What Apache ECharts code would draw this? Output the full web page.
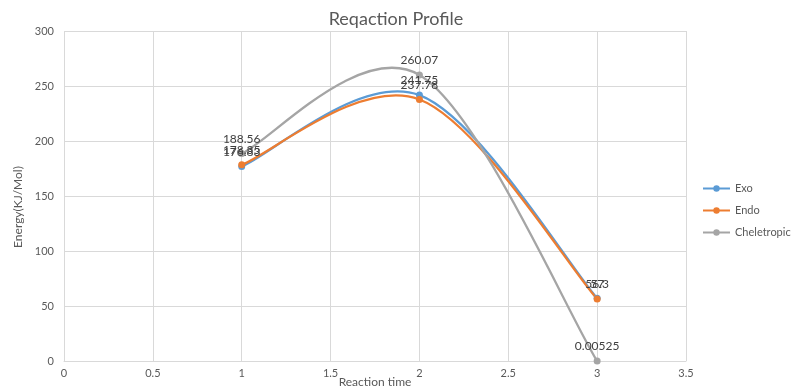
<!DOCTYPE html>
<html><head><meta charset="utf-8">
<script src="https://cdn.jsdelivr.net/npm/echarts@6/dist/echarts.min.js"></script>
<style>html,body{margin:0;padding:0;background:#fff}#c{width:792px;height:391px}</style>
</head><body><div id="c"></div>
<script>
const xValues = [1, 2, 3];
const seriesNames = ['Exo', 'Endo', 'Cheletropic'];
const exo = [176.83, 241.75, 57];
const endo = [178.35, 237.78, 56.3];
const cheletropic = [188.56, 260.07, 0.00525];
const xTicks = [0, 0.5, 1, 1.5, 2, 2.5, 3, 3.5];
const yTicks = [0, 50, 100, 150, 200, 250, 300];
const colors = ['#5B9BD5', '#ED7D31', '#A5A5A5'];
const allValues = [exo, endo, cheletropic];
const FONT = 'Lato, "Liberation Sans", sans-serif';

function curveRender(vals, color) {
  return function (params, api) {
    if (params.dataIndex !== 0) return null;
    const p = xValues.map((x, i) => api.coord([x, vals[i]]));
    const n = p.length;
    let d = 'M' + p[0][0] + ' ' + p[0][1];
    for (let i = 0; i < n - 1; i++) {
      const p0 = p[Math.max(i - 1, 0)], p1 = p[i], p2 = p[i + 1], p3 = p[Math.min(i + 2, n - 1)];
      const c1 = [p1[0] + (p2[0] - p0[0]) / 6, p1[1] + (p2[1] - p0[1]) / 6];
      const c2 = [p2[0] - (p3[0] - p1[0]) / 6, p2[1] - (p3[1] - p1[1]) / 6];
      d += ' C' + c1[0] + ' ' + c1[1] + ' ' + c2[0] + ' ' + c2[1] + ' ' + p2[0] + ' ' + p2[1];
    }
    return { type: 'path', shape: { pathData: d }, style: { stroke: color, lineWidth: 2.25, fill: null } };
  };
}

const lineSeries = seriesNames.map((name, k) => ({
  name: name,
  type: 'line',
  z: 3,
  data: xValues.map((x, i) => [x, allValues[k][i]]),
  symbol: 'circle',
  symbolSize: 7,
  itemStyle: { color: colors[k] },
  lineStyle: { color: colors[k], width: 2.25, opacity: 0 },
  label: {
    show: true, position: 'top', distance: 5,
    color: '#404040', fontSize: 12, fontFamily: FONT,
    formatter: p => String(p.value[1])
  },
  emphasis: { disabled: true },
  animation: false
}));
const curveSeries = seriesNames.map((name, k) => ({
  name: name,
  type: 'custom',
  z: 2,
  data: xValues.map((x, i) => [x, allValues[k][i]]),
  renderItem: curveRender(allValues[k], colors[k]),
  silent: true,
  animation: false
}));

const chart = echarts.init(document.getElementById('c'), null, { renderer: 'canvas' });
chart.setOption({
  animation: false,
  title: {
    text: 'Reqaction Profile', left: 'center', top: 5,
    textStyle: { color: '#595959', fontSize: 18, fontWeight: 'normal', fontFamily: FONT }
  },
  legend: {
    data: seriesNames, orient: 'vertical', left: 697, top: 178,
    itemWidth: 27, itemHeight: 8, itemGap: 11,
    lineStyle: { opacity: 1 },
    textStyle: { color: '#595959', fontSize: 11, fontFamily: FONT }
  },
  grid: { left: 64, right: 106, top: 31, bottom: 30, containLabel: false, outerBoundsMode: 'none' },
  xAxis: {
    type: 'value', min: xTicks[0], max: xTicks[xTicks.length - 1], interval: 0.5,
    name: 'Reaction time', nameLocation: 'middle', nameGap: 15, nameMoveOverlap: false,
    nameTextStyle: { color: '#595959', fontSize: 12, fontFamily: FONT },
    axisLine: { show: true, lineStyle: { color: '#D9D9D9' } },
    axisTick: { show: false },
    axisLabel: { color: '#595959', fontSize: 11, fontFamily: FONT, margin: 7 },
    splitLine: { show: true, lineStyle: { color: '#D9D9D9' } }
  },
  yAxis: {
    type: 'value', min: yTicks[0], max: yTicks[yTicks.length - 1], interval: 50,
    name: 'Energy(KJ/Mol)', nameLocation: 'middle', nameGap: 40, nameMoveOverlap: false,
    nameTextStyle: { color: '#595959', fontSize: 12, fontFamily: FONT, padding: [0, 22, 0, 0] },
    axisLine: { show: false }, axisTick: { show: false },
    axisLabel: { color: '#595959', fontSize: 11, fontFamily: FONT, margin: 10 },
    splitLine: { show: true, lineStyle: { color: '#D9D9D9' } }
  },
  series: lineSeries.concat(curveSeries)
});
</script></body></html>
